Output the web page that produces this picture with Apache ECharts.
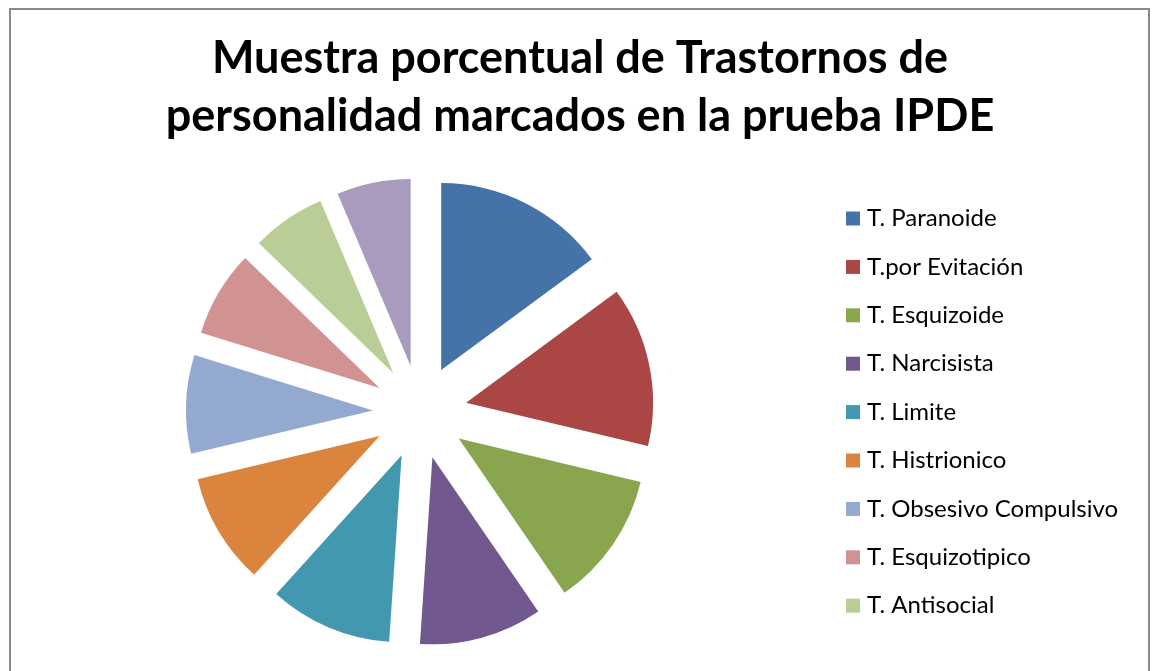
<!DOCTYPE html>
<html>
<head>
<meta charset="utf-8">
<script src="https://cdn.jsdelivr.net/npm/echarts@6/dist/echarts.min.js"></script>
<style>
html,body{margin:0;padding:0;background:#fff;}
#chart{width:1155px;height:671px;}
</style>
</head>
<body>
<div id="chart"></div>
<script>
const categories = ["T. Paranoide","T.por Evitación","T. Esquizoide","T. Narcisista","T. Limite","T. Histrionico","T. Obsesivo Compulsivo","T. Esquizotipico","T. Antisocial","T. Dependiente"];
const values = [14,13,11,10,10,9,8,7,6,6];
const legendItems = categories.slice(0, 9);
const colors = ["#4572A7","#AA4643","#89A54E","#71588F","#4198AF","#DB843D","#93A9CF","#D19392","#B9CD96","#A99BBD"];
const titleText = "Muestra porcentual de Trastornos de\npersonalidad marcados en la prueba IPDE";

const chart = echarts.init(document.getElementById('chart'));
chart.setOption({
  animation: false,
  backgroundColor: '#fff',
  color: colors,
  title: {
    text: titleText,
    left: 580,
    top: 29,
    padding: 0,
    textAlign: 'center',
    textStyle: {fontFamily: 'Lato', fontWeight: 'bold', fontSize: 45, lineHeight: 58, color: '#000'}
  },
  legend: {
    data: legendItems,
    orient: 'vertical',
    left: 846,
    top: 206.5,
    padding: 0,
    itemWidth: 14,
    itemHeight: 14,
    itemGap: 24.4,
    icon: 'rect',
    selectedMode: false,
    textStyle: {fontFamily: 'Lato', fontSize: 24, lineHeight: 24, color: '#000', padding: [0,0,0,2]}
  },
  graphic: [{
    type: 'rect', silent: true,
    shape: {x: 10, y: 9, width: 1139, height: 700},
    style: {fill: 'none', stroke: '#8a8a8a', lineWidth: 2}
  }],
  series: [{
    type: 'pie',
    center: [420, 412],
    radius: [0, 187],
    startAngle: 90,
    clockwise: true,
    selectedMode: 'multiple',
    selectedOffset: 47,
    label: {show: false},
    labelLine: {show: false},
    emphasis: {disabled: true},
    itemStyle: {borderWidth: 0},
    data: categories.map((c, i) => ({name: c, value: values[i], selected: true}))
  }]
});
</script>
</body>
</html>
